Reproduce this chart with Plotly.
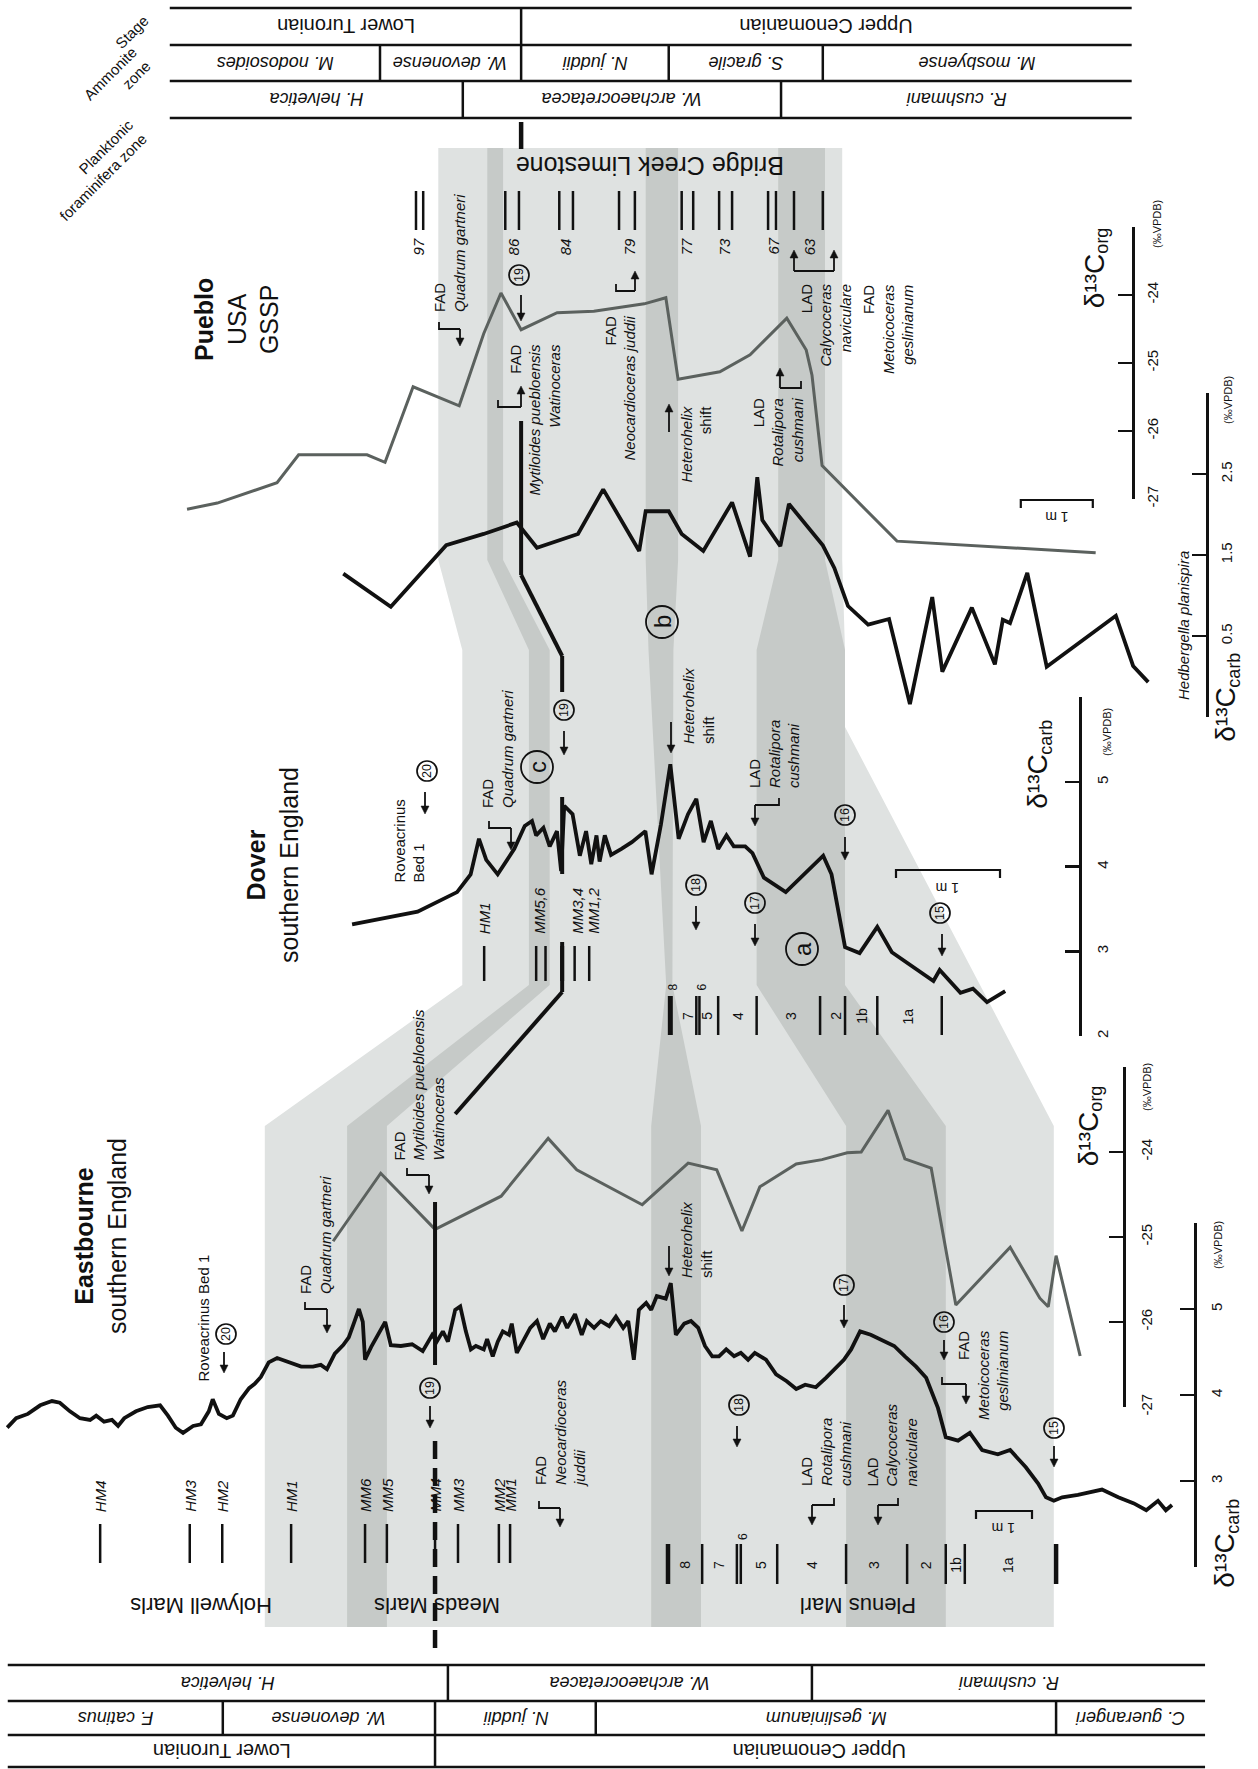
import math
import plotly.graph_objects as go

W, H = 1258, 1769
FONT = "Liberation Sans, Arial, Helvetica, sans-serif"
BLACK = "#111111"
GREY = "#5b615e"
LIGHT = "#dfe2e1"
DARK = "#c6cac8"

# ------------------------------------------------------------------ data
# heights in metres above the base of each plotted interval, delta13C in permil VPDB
pueblo_org_height = [13.93, 13.51, 12.68, 12.38, 11.43, 11.18, 10.79, 10.15, 9.81, 9.57, 9.29, 8.79,
                     8.28, 7.58, 7.28, 7.11, 6.53, 6.11, 5.60, 5.33, 5.25, 5.11, 4.07, 1.31]
pueblo_org_d13c = [-27.15, -27.06, -26.76, -26.35, -26.35, -26.46, -25.35, -25.63, -24.57, -23.97, -24.51, -24.26,
                   -24.24, -24.13, -24.04, -25.24, -25.13, -24.88, -24.34, -24.81, -25.18, -26.51, -27.62, -27.79]

pueblo_carb_height = [11.76, 11.10, 10.33, 9.81, 9.35, 9.07, 8.50, 8.15, 7.65, 7.56, 7.24, 7.06, 6.76, 6.36,
                      6.11, 6.01, 5.94, 5.69, 5.57, 5.10, 4.94, 4.75, 4.47, 4.18, 3.89, 3.58, 3.44, 3.03,
                      2.71, 2.60, 2.50, 2.26, 1.99, 1.03, 0.79, 0.58]
pueblo_carb_d13c = [1.27, 0.86, 1.62, 1.76, 1.90, 1.59, 1.76, 2.31, 1.55, 2.04, 2.04, 1.76, 1.55, 2.15,
                    1.48, 2.46, 1.93, 1.61, 2.13, 1.62, 1.34, 0.87, 0.64, 0.71, -0.34, 0.98, 0.06, 0.85,
                    0.15, 0.70, 0.66, 1.28, 0.12, 0.75, 0.13, -0.07]

dover_carb_height = [6.23, 5.60, 5.22, 5.09, 5.01, 4.94, 4.83, 4.67, 4.57, 4.50, 4.46, 4.39, 4.33, 4.26,
                     4.22, 4.19, 4.11, 4.04, 3.98, 3.93, 3.88, 3.85, 3.80, 3.74, 3.64, 3.54, 3.41, 3.35,
                     3.26, 3.17, 3.09, 3.00, 2.92, 2.85, 2.78, 2.71, 2.63, 2.56, 2.45, 2.38, 2.27, 2.06,
                     1.70, 1.62, 1.49, 1.35, 1.18, 1.04, 0.64, 0.58, 0.38, 0.26, 0.125, -0.05]
dover_carb_d13c = [3.32, 3.47, 3.70, 3.91, 4.33, 4.08, 3.91, 4.21, 4.48, 4.54, 4.37, 4.46, 4.24, 4.42,
                   3.95, 4.72, 4.62, 4.13, 4.42, 4.03, 4.37, 4.06, 4.37, 4.14, 4.21, 4.29, 4.42, 3.91,
                   4.50, 5.21, 4.33, 4.62, 4.80, 4.29, 4.54, 4.21, 4.37, 4.24, 4.24, 4.16, 3.87, 3.70,
                   4.13, 3.91, 3.05, 2.98, 3.29, 2.99, 2.65, 2.78, 2.51, 2.56, 2.40, 2.53]

eastbourne_carb_height = [
    21.30, 21.14, 20.93, 20.71, 20.50, 20.36, 20.18, 20.00, 19.82, 19.71, 19.57, 19.43, 19.32, 19.21,
    19.00, 18.79, 18.57, 18.43, 18.29, 18.16, 17.98, 17.84, 17.70, 17.63, 17.52, 17.38, 17.27, 17.13,
    16.98, 16.88, 16.77, 16.63, 16.48, 16.27, 16.05, 15.84, 15.70, 15.59, 15.45, 15.30, 15.20, 15.09,
    15.02, 14.95, 14.91, 14.80, 14.66, 14.55, 14.45, 14.27, 14.07, 13.88, 13.71, 13.63, 13.52, 13.43,
    13.30, 13.21, 13.11, 13.02, 12.93, 12.79, 12.73, 12.63, 12.54, 12.45, 12.34, 12.29, 12.20, 12.09,
    11.96, 11.84, 11.73, 11.61, 11.52, 11.39, 11.30, 11.16, 11.04, 10.95, 10.82, 10.70, 10.55, 10.43,
    10.30, 10.21, 10.11, 10.02, 9.89, 9.80, 9.70, 9.54, 9.45, 9.36, 9.21, 9.09, 8.96, 8.84, 8.71,
    8.59, 8.46, 8.32, 8.20, 8.07, 7.95, 7.75, 7.57, 7.38, 7.21, 7.05, 6.86, 6.68, 6.48, 6.36, 6.23,
    6.07, 5.88, 5.64, 5.46, 5.27, 5.07, 4.89, 4.68, 4.54, 4.32, 4.11, 3.89, 3.61, 3.39, 3.11, 2.89,
    2.75, 2.61, 2.46, 2.18, 1.75, 1.46, 1.18, 0.96, 0.75, 0.61, 0.50]
eastbourne_carb_d13c = [
    3.62, 3.73, 3.78, 3.88, 3.93, 3.91, 3.81, 3.73, 3.71, 3.76, 3.69, 3.71, 3.64, 3.73,
    3.81, 3.86, 3.88, 3.76, 3.62, 3.56, 3.64, 3.66, 3.81, 3.95, 3.78, 3.73, 3.76, 3.95,
    4.08, 4.13, 4.21, 4.38, 4.43, 4.38, 4.33, 4.33, 4.35, 4.30, 4.48, 4.58, 4.67, 4.87,
    5.00, 4.85, 4.41, 4.56, 4.72, 4.85, 4.58, 4.57, 4.59, 4.51, 4.70, 4.62, 4.74, 4.62,
    4.99, 5.03, 4.74, 4.53, 4.57, 4.53, 4.65, 4.45, 4.62, 4.74, 4.70, 4.83, 4.49, 4.62,
    4.78, 4.86, 4.65, 4.83, 4.74, 4.91, 4.78, 4.94, 4.70, 4.86, 4.78, 4.86, 4.80, 4.91,
    4.78, 4.86, 4.41, 4.99, 5.07, 4.99, 5.15, 5.12, 5.30, 4.70, 4.83, 4.86, 4.78, 4.57, 4.45,
    4.45, 4.53, 4.45, 4.49, 4.41, 4.49, 4.41, 4.24, 4.16, 4.07, 4.12, 4.09, 4.20, 4.33, 4.41, 4.53,
    4.74, 4.70, 4.62, 4.57, 4.45, 4.33, 4.20, 3.85, 3.51, 3.47, 3.56, 3.36, 3.31, 3.36, 3.16, 2.97,
    2.81, 2.77, 2.81, 2.84, 2.90, 2.81, 2.74, 2.66, 2.77, 2.66, 2.72]

eastbourne_org_height = [15.48, 14.63, 13.66, 12.48, 11.64, 11.13, 9.96, 9.14, 8.63, 8.18, 7.86, 7.21,
                         6.75, 6.30, 6.05, 5.57, 5.27, 4.80, 4.36, 3.39, 2.86, 2.71, 2.57, 2.14]
eastbourne_org_d13c = [-25.05, -24.25, -24.91, -24.52, -23.84, -24.21, -24.62, -24.13, -24.21, -24.93, -24.41, -24.14,
                       -24.09, -24.01, -24.00, -23.51, -24.08, -24.19, -25.80, -25.12, -25.72, -25.82, -25.22, -26.40]

# bed / marker horizons (m)
pueblo_bed_marks = [10.75, 10.65, 9.51, 9.32, 8.76, 8.57, 7.93, 7.71, 7.06, 6.90, 6.54, 6.36, 5.86, 5.75, 5.50, 5.10]
pueblo_bed_names = ["97", "86", "84", "79", "77", "73", "67", "63"]
pueblo_bed_name_h = [10.71, 9.39, 8.67, 7.78, 6.99, 6.46, 5.79, 5.28]

dover_bed_marks = [4.96, 4.46, 4.37, 4.21, 4.09, 3.95]
dover_bed_names = ["HM1", "MM5,6", "MM3,4", "MM1,2"]
dover_bed_name_h = [4.96, 4.43, 4.07, 3.91]
dover_plenus_marks = [3.17, 2.92, 2.89, 2.71, 2.34, 1.73, 1.49, 1.18, 0.56]
dover_plenus_names = ["8", "7", "6", "5", "4", "3", "2", "1b", "1a"]
dover_plenus_h = [3.14, 3.00, 2.87, 2.82, 2.52, 2.01, 1.58, 1.33, 0.88]

eastbourne_bed_marks = [19.64, 18.04, 17.46, 16.23, 14.91, 14.52, 13.66, 13.25, 12.52, 12.32]
eastbourne_bed_names = ["HM4", "HM3", "HM2", "HM1", "MM6", "MM5", "MM4", "MM3", "MM2", "MM1"]
eastbourne_plenus_marks = [9.50, 8.89, 8.27, 8.20, 7.55, 6.32, 5.23, 4.54, 4.20, 2.57]
eastbourne_plenus_names = ["8", "7", "6", "5", "4", "3", "2", "1b", "1a"]
eastbourne_plenus_h = [9.20, 8.59, 8.16, 7.84, 6.93, 5.82, 4.89, 4.36, 3.43]

# biostratigraphic zonation (boundaries in m of the section they are drawn against)
top_stage_names = ["Lower Turonian", "Upper Cenomanian"]
top_stage_edges = [14.17, 9.29, 0.81]
top_ammonite_names = ["M. nodosoides", "W. devonense", "N. juddii", "S. gracile", "M. mosbyense"]
top_ammonite_edges = [14.17, 11.25, 9.29, 7.24, 5.10, 0.81]
top_foram_names = ["H. helvetica", "W. archaeocretacea", "R. cushmani"]
top_foram_edges = [14.17, 10.10, 5.68, 0.81]

bot_stage_names = ["Lower Turonian", "Upper Cenomanian"]
bot_stage_edges = [21.29, 13.66, -0.09]
bot_ammonite_names = ["F. catinus", "W. devonense", "N. juddii", "M. geslinianum", "C. guerangeri"]
bot_ammonite_edges = [21.29, 17.45, 13.66, 10.79, 2.57, -0.09]
bot_foram_names = ["H. helvetica", "W. archaeocretacea", "R. cushmani"]
bot_foram_edges = [21.29, 13.43, 6.93, -0.09]

# isotope scale ticks: labelled values and unlabelled end ticks
pc_ticks, pc_ends = [0.5, 1.5, 2.5], [-0.5, 3.5]
po_ticks, po_ends = [-27, -26, -25, -24], [-23]
dc_ticks, dc_ends = [2, 3, 4, 5], [6]
ec_ticks, ec_ends = [3, 4, 5], [2, 6]
eo_ticks, eo_ends = [-27, -26, -25, -24], [-23]

# correlation horizon 19 (FAD Mytiloides) in each section (m)
line19 = {"P": 9.29, "D": 4.21, "E": 13.66, "E_end": 13.30}

# correlated intervals: (level, section, height) down the left and right edges
bands = [
    (LIGHT,
     [("P_top", "P", 10.44), ("P_bot", "P", 10.44), ("D_top", "D", 5.17), ("D_bot", "D", 5.17), ("E_top", "E", 16.70), ("E_bot", "E", 16.70)],
     [("P_top", "P", 4.83), ("P_bot", "P", 4.83), ("D_top", "D", 1.49), ("D_mid", "D", 1.49), ("E_top", "E", 2.61), ("E_bot", "E", 2.61)]),
    (DARK,
     [("P_top", "P", 9.76), ("P_bot", "P", 9.76), ("D_top", "D", 4.53), ("D_bot", "D", 4.53), ("E_top", "E", 15.23), ("E_bot", "E", 15.23)],
     [("P_top", "P", 9.54), ("P_bot", "P", 9.54), ("D_top", "D", 4.33), ("D_bot", "D", 4.33), ("E_top", "E", 14.52), ("E_bot", "E", 14.52)]),
    (DARK,
     [("P_top", "P", 7.56), ("P_bot", "P", 7.56), ("D_top", "D", 3.38), ("D_bot", "D", 3.21), ("E_top", "E", 9.80), ("E_bot", "E", 9.80)],
     [("P_top", "P", 7.11), ("P_bot", "P", 7.11), ("D_top", "D", 3.14), ("D_bot", "D", 3.15), ("E_top", "E", 8.91), ("E_bot", "E", 8.91)]),
    (DARK,
     [("P_top", "P", 5.72), ("P_bot", "P", 5.72), ("D_top", "D", 2.34), ("D_bot", "D", 2.34), ("E_top", "E", 6.32), ("E_bot", "E", 6.32)],
     [("P_top", "P", 5.07), ("P_bot", "P", 5.07), ("D_top", "D", 1.49), ("D_bot", "D", 1.49), ("E_top", "E", 4.54), ("E_bot", "E", 4.54)]),
]

# ------------------------------------------------------------------ layout constants
SEC = {"P": dict(x0=1190, s=72), "D": dict(x0=1000, s=104), "E": dict(x0=1200, s=56)}
XAX = {"P": "x2", "D": "x3", "E": "x4"}
ISO = {"Pc": dict(v0=1.5, p0=555, s=81), "Po": dict(v0=-24, p0=295, s=68),
       "Dc": dict(v0=5, p0=782, s=84.7), "Ec": dict(v0=3, p0=1481, s=86),
       "Eo": dict(v0=-24, p0=1152, s=85)}
LEVEL_Y = {"P_top": 148, "P_bot": 560, "D_top": 650, "D_mid": 727, "D_bot": 985, "E_top": 1126, "E_bot": 1627}


def rng_x(k):
    c = SEC[k]
    return [c["x0"] / c["s"], (c["x0"] - W) / c["s"]]


def rng_y(k):
    c = ISO[k]
    return [c["v0"] + (c["p0"] - H) / c["s"], c["v0"] + c["p0"] / c["s"]]


def iso_px(k, v):
    c = ISO[k]
    return c["p0"] - (v - c["v0"]) * c["s"]


def sec_px(k, h):
    c = SEC[k]
    return c["x0"] - c["s"] * h


fig = go.Figure()
fig.add_trace(go.Scatter(x=[None], y=[None], xaxis="x", yaxis="y", showlegend=False, hoverinfo="skip"))

curve_specs = [
    (pueblo_org_height, pueblo_org_d13c, "x2", "y3", GREY, 3.0),
    (pueblo_carb_height, pueblo_carb_d13c, "x2", "y2", BLACK, 3.8),
    (dover_carb_height, dover_carb_d13c, "x3", "y4", BLACK, 3.8),
    (eastbourne_org_height, eastbourne_org_d13c, "x4", "y6", GREY, 3.0),
    (eastbourne_carb_height, eastbourne_carb_d13c, "x4", "y5", BLACK, 3.8),
]
for xs, ys, xa, ya, col, wd in curve_specs:
    fig.add_trace(go.Scatter(x=xs, y=ys, xaxis=xa, yaxis=ya, mode="lines",
                             line=dict(color=col, width=wd), showlegend=False, hoverinfo="skip"))

# display (bracket) axes for the isotope scales
disp = [  # key, axis id, labelled ticks, end ticks, x position px, standoff
    ("Pc", "y7", pc_ticks, pc_ends, 1207, 5),
    ("Po", "y8", po_ticks, po_ends, 1133, 5),
    ("Dc", "y9", dc_ticks, dc_ends, 1080, 8),
    ("Ec", "y10", ec_ticks, ec_ends, 1195, 7),
    ("Eo", "y11", eo_ticks, eo_ends, 1124, 8),
]
for _, ya, *_r in disp:
    fig.add_trace(go.Scatter(x=[None], y=[None], xaxis="x", yaxis=ya, showlegend=False, hoverinfo="skip"))

layout = dict(
    width=W, height=H, margin=dict(l=0, r=0, t=0, b=0, pad=0),
    paper_bgcolor="white", plot_bgcolor="rgba(0,0,0,0)", showlegend=False,
    font=dict(family=FONT, size=15, color=BLACK),
    xaxis=dict(range=[0, W], domain=[0, 1], visible=False, fixedrange=True),
    yaxis=dict(range=[H, 0], domain=[0, 1], visible=False, fixedrange=True),
)
for k, xa in XAX.items():
    layout["xaxis" + xa[1:]] = dict(range=rng_x(k), overlaying="x", visible=False, fixedrange=True)
for k, ya in [("Pc", "y2"), ("Po", "y3"), ("Dc", "y4"), ("Ec", "y5"), ("Eo", "y6")]:
    layout["yaxis" + ya[1:]] = dict(range=rng_y(k), overlaying="y", visible=False, fixedrange=True)
for k, ya, tv, ends, xp, so in disp:
    lo, hi = min(tv + ends), max(tv + ends)
    d0 = 1 - iso_px(k, lo) / H
    d1 = 1 - iso_px(k, hi) / H
    layout["yaxis" + ya[1:]] = dict(
        domain=[d0, d1], range=[lo, hi], anchor="free", position=xp / W, side="right",
        showline=True, linecolor=BLACK, linewidth=2.6, ticks="inside", ticklen=14, tickwidth=2.6,
        tickcolor=BLACK, tickmode="array", tickvals=tv, ticktext=[f"{v:g}" for v in tv],
        tickangle=-90, ticklabelstandoff=so,
        minor=dict(tickmode="array", tickvals=ends, ticks="inside", ticklen=14, tickwidth=2.6,
                   tickcolor=BLACK, showgrid=False),
        tickfont=dict(family=FONT, size=15, color=BLACK), showgrid=False, zeroline=False,
        fixedrange=True, automargin=False)
fig.update_layout(**layout)

shapes = []
ann = []


def text(x, y, s, size=15, angle=-90, xanchor="center", yanchor="middle", align="center", sec=None):
    # positions given in a section's metres are placed through that section's scale
    xx = sec_px(sec, x) if sec else x
    ann.append(dict(x=xx, y=y, xref="x", yref="y", text=s, showarrow=False, textangle=angle,
                    xanchor=xanchor, yanchor=yanchor, align=align,
                    font=dict(family=FONT, size=size, color=BLACK)))


def vline(xref, h, y0, y1, width=2.5, dash="solid"):
    shapes.append(dict(type="line", xref=xref, yref="y", x0=h, x1=h, y0=y0, y1=y1,
                       line=dict(color=BLACK, width=width, dash=dash)))


def hline(xref, h0, h1, y, width=2.5):
    shapes.append(dict(type="line", xref=xref, yref="y", x0=h0, x1=h1, y0=y, y1=y,
                       line=dict(color=BLACK, width=width)))


def arrow(xt, yt, xs, ys, width=1.8, head=8, half=4):
    dx, dy = xt - xs, yt - ys
    L = math.hypot(dx, dy)
    ux, uy = dx / L, dy / L
    bx, by = xt - ux * head, yt - uy * head
    shapes.append(dict(type="line", xref="x", yref="y", x0=xs, y0=ys, x1=bx + ux * 1.5, y1=by + uy * 1.5,
                       line=dict(color=BLACK, width=width)))
    p1 = (bx - uy * half, by + ux * half)
    p2 = (bx + uy * half, by - ux * half)
    shapes.append(dict(type="path", xref="x", yref="y",
                       path=f"M {xt:.1f},{yt:.1f} L {p1[0]:.1f},{p1[1]:.1f} L {p2[0]:.1f},{p2[1]:.1f} Z",
                       fillcolor=BLACK, line=dict(color=BLACK, width=0.5)))


def elbow(xs, ys, xt, yt, stub=7):
    shapes.append(dict(type="path", xref="x", yref="y", path=f"M {xs},{ys - stub} L {xs},{ys} L {xt},{ys}",
                       line=dict(color=BLACK, width=1.8)))
    arrow(xt, yt, xt, ys)


def circ(x, y, label, r=10, size=12.5, lw=1.7):
    shapes.append(dict(type="circle", xref="x", yref="y", x0=x - r, x1=x + r, y0=y - r, y1=y + r,
                       line=dict(color=BLACK, width=lw)))
    text(x, y, label, size=size)


def d13_label(x, y, sub, size=28):
    # vertical "δ13C" with its subscript set as a second, smaller run of text
    main_len = 1.944 * size
    sub_size = round(size * 0.66)
    sub_len = {"carb": 1.945, "org": 1.445}[sub] * sub_size
    y_bottom = y + (main_len + sub_len) / 2
    text(x, y_bottom, "δ¹³C", size=size, yanchor="bottom")
    text(x + 0.28 * size, y_bottom - main_len, sub, size=sub_size, yanchor="bottom")


# ---- correlation bands (computed from the tie heights through each section's scale)
for col, left, right in bands:
    pts = [(sec_px(s, h), LEVEL_Y[l]) for l, s, h in left] + [(sec_px(s, h), LEVEL_Y[l]) for l, s, h in reversed(right)]
    path = "M " + " L ".join(f"{x:.1f},{y:.1f}" for x, y in pts) + " Z"
    shapes.append(dict(type="path", xref="x", yref="y", path=path, fillcolor=col,
                       line=dict(width=0), layer="below"))

# ---- zonation tables


def table(sec, rows_y, rows):
    xref = XAX[sec]
    left, right = rows[0][1][0], rows[0][1][-1]
    for yy in rows_y:
        hline(xref, left, right, yy)
    for i, (names, edges, italic, size) in enumerate(rows):
        y0, y1 = rows_y[i], rows_y[i + 1]
        for e in edges[1:-1]:
            vline(xref, e, y0, y1)
        for j, nm in enumerate(names):
            s = f"<i>{nm}</i>" if italic else nm
            text((edges[j] + edges[j + 1]) / 2, (y0 + y1) / 2, s, size=size, angle=180, sec=sec)


table("P", [8, 45, 81, 118], [(top_stage_names, top_stage_edges, False, 20),
                              (top_ammonite_names, top_ammonite_edges, True, 18),
                              (top_foram_names, top_foram_edges, True, 18)])
table("E", [1665, 1701, 1735, 1767], [(bot_foram_names, bot_foram_edges, True, 18),
                                     (bot_ammonite_names, bot_ammonite_edges, True, 18),
                                     (bot_stage_names, bot_stage_edges, False, 20)])

text(131, 32, "Stage", size=15, angle=-45)
text(117, 80, "Ammonite<br>zone", size=15, angle=-45, align="right")
text(96, 170, "Planktonic<br>foraminifera zone", size=15, angle=-45, align="right")

# ---- bed markers
for h in pueblo_bed_marks:
    vline("x2", h, 191, 230)
for nm, h in zip(pueblo_bed_names, pueblo_bed_name_h):
    text(h, 236, f"<i>{nm}</i>", size=15, yanchor="top", sec="P")

for h in dover_bed_marks:
    vline("x3", h, 946, 981, width=4 if h == line19["D"] else 2.5)
for nm, h in zip(dover_bed_names, dover_bed_name_h):
    text(h, 936, f"<i>{nm}</i>", size=15, yanchor="bottom", sec="D")
for h in dover_plenus_marks:
    vline("x3", h, 996, 1035, width=5 if h == dover_plenus_marks[0] else 2.5)
for nm, h in zip(dover_plenus_names, dover_plenus_h):
    raised = nm in ("8", "6")
    text(h, 987 if raised else 1016, nm, size=12 if raised else 14, sec="D")

for h in eastbourne_bed_marks:
    vline("x4", h, 1524, 1563)
for nm, h in zip(eastbourne_bed_names, eastbourne_bed_marks):
    text(h, 1514, f"<i>{nm}</i>", size=15, yanchor="bottom", sec="E")
for h in eastbourne_plenus_marks:
    wd = 4.5 if h in (eastbourne_plenus_marks[0], eastbourne_plenus_marks[-1]) else 2.5
    vline("x4", h, 1544, 1584, width=wd)
for nm, h in zip(eastbourne_plenus_names, eastbourne_plenus_h):
    raised = nm == "6"
    text(h, 1537 if raised else 1565, nm, size=12 if raised else 14, sec="E")

# ---- correlation line 19 (FAD Mytiloides puebloensis)
vline("x2", line19["P"], 122, 149, width=4.5)
vline("x2", line19["P"], 421, 575, width=4)
vline("x3", line19["D"], 656, 692, width=4)
vline("x3", line19["D"], 797, 874, width=4)
vline("x3", line19["D"], 942, 992, width=4)
vline("x4", line19["E"], 1202, 1365, width=4)
vline("x4", line19["E"], 1441, 1652, width=4.5, dash="18px,9px")
for (s0, h0, y0), (s1, h1, y1) in [(("P", line19["P"], 575), ("D", line19["D"], 656)),
                                   (("D", line19["D"], 992), ("E", line19["E_end"], 1114))]:
    shapes.append(dict(type="line", xref="x", yref="y", x0=sec_px(s0, h0), y0=y0, x1=sec_px(s1, h1), y1=y1,
                       line=dict(color=BLACK, width=4)))

# ---- scale bars (1 m in each section)
for sec, h0, yb, ty in [("P", 1.35, 500, 517), ("D", 0.0, 870, 888), ("E", 3.0, 1511, 1528)]:
    shapes.append(dict(type="path", xref=XAX[sec], yref="y",
                       path=f"M {h0},{yb + 8} L {h0},{yb} L {h0 + 1},{yb} L {h0 + 1},{yb + 8}",
                       line=dict(color=BLACK, width=2.2)))
    text(h0 + 0.5, ty, "1 m", size=14, angle=180, sec=sec)

# ---- isotope axis titles
for x, y, sub in [(1094, 270, "org"), (1226, 699, "carb"), (1038, 766, "carb"), (1088, 1128, "org"), (1225, 1545, "carb")]:
    d13_label(x, y, sub)
for x, y in [(1157, 224), (1228, 400), (1107, 732), (1147, 1087), (1218, 1245)]:
    text(x, y, "(‰VPDB)", size=11)
text(1183, 626, "<i>Hedbergella planispira</i>", size=15)

# ---- section titles and formations
text(236, 320, "<b>Pueblo</b><br>USA<br>GSSP", size=25)
text(272, 865, "<b>Dover</b><br>southern England", size=25)
text(100, 1236, "<b>Eastbourne</b><br>southern England", size=25)
text(650, 166, "Bridge Creek Limestone", size=25, angle=180)
text(201, 1606, "Holywell Marls", size=22, angle=180)
text(437, 1606, "Meads Marls", size=22, angle=180)
text(858, 1606, "Plenus Marl", size=22, angle=180)

# ---- events, Pueblo
text(449, 314, "FAD<br><i>Quadrum gartneri</i>", yanchor="bottom", align="left")
elbow(439, 329, 460, 346)
text(534, 343, "FAD<br><i>Mytiloides puebloensis</i><br><i>Watinoceras</i>", yanchor="top", align="right")
elbow(498, 407, 521, 386)
text(620, 314, "FAD<br><i>Neocardioceras juddii</i>", yanchor="top", align="right")
elbow(616, 291, 635, 271)
text(696, 404, "<i>Heterohelix</i><br>shift", yanchor="top", align="right")
arrow(669, 404, 669, 432)
text(777, 396, "LAD<br><i>Rotalipora</i><br><i>cushmani</i>", yanchor="top", align="right")
elbow(801, 388, 780, 368)
text(825, 282, "LAD<br><i>Calycoceras</i><br><i>naviculare</i>", yanchor="top", align="right")
text(888, 282, "FAD<br><i>Metoicoceras</i><br><i>geslinianum</i>", yanchor="top", align="right")
shapes.append(dict(type="line", xref="x", yref="y", x0=794, x1=834, y0=271, y1=271, line=dict(color=BLACK, width=1.8)))
arrow(794, 250, 794, 271)
arrow(834, 250, 834, 271)
circ(519, 275, "19")
arrow(521, 321, 521, 295)

# ---- events, Dover
text(409, 885, "Roveacrinus<br>Bed 1", yanchor="bottom", align="left")
circ(427, 771, "20")
arrow(425, 814, 425, 792)
text(497, 810, "FAD<br><i>Quadrum gartneri</i>", yanchor="bottom", align="left")
elbow(489, 828, 511, 850)
circ(537, 767, "c", r=16, size=24, lw=1.8)
circ(564, 710, "19")
arrow(564, 755, 564, 731)
circ(662, 622, "b", r=16, size=24, lw=1.8)
text(698, 746, "<i>Heterohelix</i><br>shift", yanchor="bottom", align="left")
arrow(671, 753, 671, 722)
text(774, 790, "LAD<br><i>Rotalipora</i><br><i>cushmani</i>", yanchor="bottom", align="left")
elbow(779, 805, 755, 826)
circ(845, 815, "16")
arrow(845, 860, 845, 837)
circ(696, 885, "18")
arrow(696, 930, 696, 906)
circ(755, 903, "17")
arrow(755, 946, 755, 924)
circ(802, 949, "a", r=16, size=24, lw=1.8)
circ(940, 913, "15")
arrow(942, 956, 942, 934)

# ---- events, Eastbourne
text(203, 1384, "Roveacrinus Bed 1", yanchor="bottom", align="left")
circ(226, 1334, "20")
arrow(224, 1373, 224, 1352)
text(315, 1296, "FAD<br><i>Quadrum gartneri</i>", yanchor="bottom", align="left")
elbow(305, 1309, 327, 1333)
text(418, 1163, "FAD<br><i>Mytiloides puebloensis</i><br><i>Watinoceras</i>", yanchor="bottom", align="left")
elbow(407, 1175, 429, 1194)
circ(430, 1388, "19")
arrow(430, 1428, 430, 1406)
text(560, 1489, "FAD<br><i>Neocardioceras</i><br><i>juddii</i>", yanchor="bottom", align="left")
elbow(539, 1508, 560, 1527)
text(696, 1280, "<i>Heterohelix</i><br>shift", yanchor="bottom", align="left")
arrow(669, 1276, 669, 1246)
circ(739, 1405, "18")
arrow(737, 1447, 737, 1426)
circ(844, 1285, "17")
arrow(844, 1328, 844, 1305)
text(826, 1488, "LAD<br><i>Rotalipora</i><br><i>cushmani</i>", yanchor="bottom", align="left")
elbow(834, 1505, 812, 1525)
text(891, 1489, "LAD<br><i>Calycoceras</i><br><i>naviculare</i>", yanchor="bottom", align="left")
elbow(898, 1505, 878, 1525)
circ(944, 1322, "16")
arrow(944, 1360, 944, 1340)
text(983, 1328, "FAD<br><i>Metoicoceras</i><br><i>geslinianum</i>", yanchor="top", align="right")
elbow(942, 1384, 966, 1404)
circ(1054, 1428, "15")
arrow(1054, 1467, 1054, 1446)

fig.update_layout(shapes=shapes, annotations=ann)
fig.write_html("out.html", config={"displayModeBar": False, "staticPlot": True},
               post_script="document.body.style.margin='0';document.body.style.overflow='hidden';")
